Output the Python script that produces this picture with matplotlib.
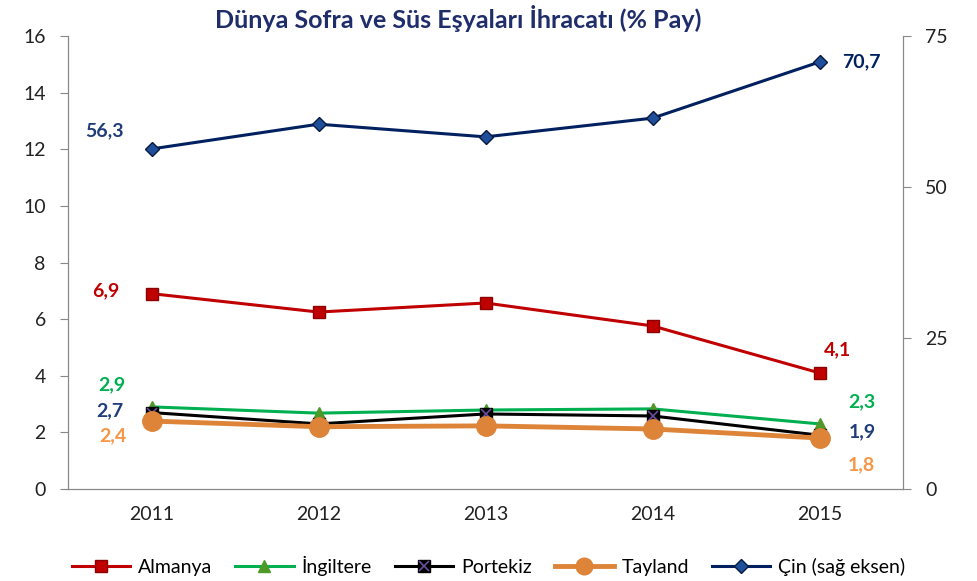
import matplotlib
matplotlib.use("Agg")
import matplotlib.pyplot as plt
from matplotlib.legend_handler import HandlerTuple
from matplotlib.lines import Line2D

years = ["2011", "2012", "2013", "2014", "2015"]
almanya = [6.9, 6.25, 6.57, 5.76, 4.1]
ingiltere = [2.9, 2.68, 2.79, 2.83, 2.3]
portekiz = [2.7, 2.3, 2.65, 2.58, 1.9]
tayland = [2.4, 2.2, 2.23, 2.12, 1.8]
cin = [56.3, 60.4, 58.3, 61.4, 70.7]
left_ticks = [0, 2, 4, 6, 8, 10, 12, 14, 16]
right_ticks = [0, 25, 50, 75]

plt.rcParams['font.family'] = ['Lato', 'DejaVu Sans']

fig = plt.figure(figsize=(9.77, 5.81), dpi=100)
ax = fig.add_axes([68/977, 1-489/581, (903-68)/977, (489-36)/581])
ax2 = ax.twinx()

x = [i + 0.5 for i in range(len(years))]

ax.plot(x, almanya, color='#C00000', lw=2.2, marker='s', ms=9, mfc='#C00000', mec='#8B0000', zorder=3)
ax.plot(x, ingiltere, color='#00B050', lw=2.2, marker='^', ms=9, mfc='#4E9A28', mec='#4E9A28', zorder=3)
ax.plot(x, portekiz, color='black', lw=2.2, marker='s', ms=9, mfc='black', mec='black', zorder=4)
ax.plot(x, portekiz, ls='none', marker='x', ms=7, mew=1.2, color='#6A4C9C', zorder=5)
ax.plot(x, tayland, color='#DD8439', lw=3.5, marker='o', ms=14, mfc='#DD8439', mec='#DD8439', zorder=6)
ax2.plot(x, cin, color='#002060', lw=2.2, marker='D', ms=7, mfc='#1F4E9A', mec='#0A1A40', zorder=3)

ax.set_xlim(0, 5)
ax.set_ylim(0, 16)
ax2.set_ylim(0, 75)
ax.set_yticks(left_ticks)
ax2.set_yticks(right_ticks)
ax.set_xticks(x)
ax.set_xticklabels(years)

for a in (ax, ax2):
    a.spines['top'].set_visible(False)
    for s in ('left', 'right', 'bottom'):
        a.spines[s].set_color('#888888')
ax.tick_params(axis='y', direction='out', length=6, color='#888888', labelsize=14, labelcolor='#222222', pad=10)
ax2.tick_params(axis='y', direction='out', length=6, color='#888888', labelsize=14, labelcolor='#222222', pad=10)
ax.tick_params(axis='x', length=0, labelsize=14, labelcolor='#222222', pad=12)

fs = 14
def lab(axx, xi, yi, text, dx, dy, color):
    axx.annotate(text, (xi, yi), xytext=(dx, dy), textcoords='offset pixels',
                 ha='center', va='center', fontsize=fs, fontweight='bold', color=color)

lab(ax2, x[0], cin[0], "56,3", -47, 18, '#1F3D7A')
lab(ax2, x[4], cin[4], "70,7", 42, 0, '#002060')
lab(ax, x[0], almanya[0], "6,9", -46, 3, '#C00000')
lab(ax, x[4], almanya[4], "4,1", 18, 23, '#C00000')
lab(ax, x[0], ingiltere[0], "2,9", -40, 22, '#00B050')
lab(ax, x[0], portekiz[0], "2,7", -42, 2, '#1F3D7A')
lab(ax, x[0], tayland[0], "2,4", -39, -15, '#F79646')
lab(ax, x[4], ingiltere[4], "2,3", 42, 22, '#00B050')
lab(ax, x[4], portekiz[4], "1,9", 43, 3, '#1F3D7A')
lab(ax, x[4], tayland[4], "1,8", 42, -27, '#F79646')

fig.text(458/977, 1-18/581, "Dünya Sofra ve Süs Eşyaları İhracatı (% Pay)", fontsize=18,
         fontweight='bold', color='#1F2D6B', ha='center', va='center')

h_alm = Line2D([], [], color='#C00000', lw=2.2, marker='s', ms=9, mfc='#C00000', mec='#8B0000')
h_ing = Line2D([], [], color='#00B050', lw=2.2, marker='^', ms=9, mfc='#4E9A28', mec='#4E9A28')
h_por1 = Line2D([], [], color='black', lw=2.2, marker='s', ms=9, mfc='black', mec='black')
h_por2 = Line2D([], [], ls='none', marker='x', ms=7, mew=1.2, color='#6A4C9C')
h_tay = Line2D([], [], color='#DD8439', lw=3.5, marker='o', ms=12, mfc='#DD8439', mec='#DD8439')
h_cin = Line2D([], [], color='#002060', lw=2.2, marker='D', ms=7, mfc='#1F4E9A', mec='#0A1A40')
fig.legend([h_alm, h_ing, (h_por1, h_por2), h_tay, h_cin],
           ["Almanya", "İngiltere", "Portekiz", "Tayland", "Çin (sağ eksen)"],
           handler_map={tuple: HandlerTuple(ndivide=1, pad=0)},
           loc='center', bbox_to_anchor=(0.5, 1-566/581), ncol=5, frameon=False,
           fontsize=14, handlelength=3, columnspacing=1.2, handletextpad=0.4)

fig.savefig("out.png", dpi=100)
